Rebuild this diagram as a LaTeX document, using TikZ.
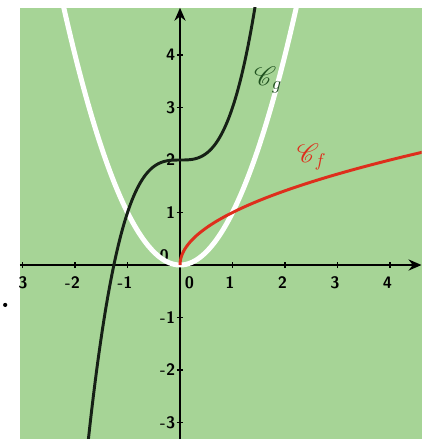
\documentclass[tikz,border=0pt]{standalone}
\usepackage{mathrsfs}
\usetikzlibrary{arrows.meta}
\definecolor{panelgreen}{RGB}{166,212,150}
\definecolor{curvedark}{RGB}{22,32,22}
\definecolor{curvered}{RGB}{222,46,28}
\definecolor{labgreen}{RGB}{30,80,30}
\tikzset{
  axis/.style={line width=1.5pt, draw=black},
  tick/.style={line width=1pt},
  ticklab/.style={font=\sffamily\bfseries\small, inner sep=1pt},
  curvelab/.style={font=\Large, inner sep=1pt}
}
\begin{document}
\begin{tikzpicture}[x=1cm,y=1cm]
\useasboundingbox (-3.429,-3.314) rectangle (4.762,5.048);
\fill[panelgreen] (-3.05,-3.314) rectangle (4.6,4.9);
\begin{scope}
\clip (-3.05,-3.314) rectangle (4.6,4.9);
% axes
\draw[axis,-{Stealth[length=7pt,width=6pt]}] (-3.05,0) -- (4.6,0);
\draw[axis,-{Stealth[length=7pt,width=6pt]}] (0,-3.314) -- (0,4.9);
\foreach \x/\l in {-3/-3,-2/-2,-1/-1,1/1,2/2,3/3,4/4}{
  \draw[tick] (\x,-0.06) -- (\x,0.06);
  \node[ticklab] (xl\x) at (\x-0.05,-0.33) {\l};
}
\node[ticklab] (xl0) at (0.18,-0.33) {0};
\foreach \y/\l in {-3/-3,-2/-2,-1/-1,1/1,2/2,3/3,4/4}{
  \draw[tick] (-0.06,\y) -- (0.06,\y);
  \node[ticklab,anchor=east] (yl\y) at (-0.05,\y) {\l};
}
\node[ticklab] (yl0) at (-0.3,0.18) {0};
% curves
\draw[white, line width=2.7pt, domain=-2.22:2.22, samples=100] plot (\x,{\x*\x});
\draw[curvered, line width=1.6pt, domain=0:2.15, samples=100] plot ({\x*\x},\x);
\draw[curvedark, line width=1.6pt, domain=-1.75:1.43, samples=120] plot (\x,{\x*\x*\x+2});
\end{scope}
\node[curvelab, text=labgreen] (cg) at (1.68,3.52) {$\mathscr{C}_g$};
\node[curvelab, text=curvered] (cf) at (2.51,2.06) {$\mathscr{C}_f$};
\fill[black] (-3.33,-0.76) circle (0.04);
\end{tikzpicture}
\end{document}
